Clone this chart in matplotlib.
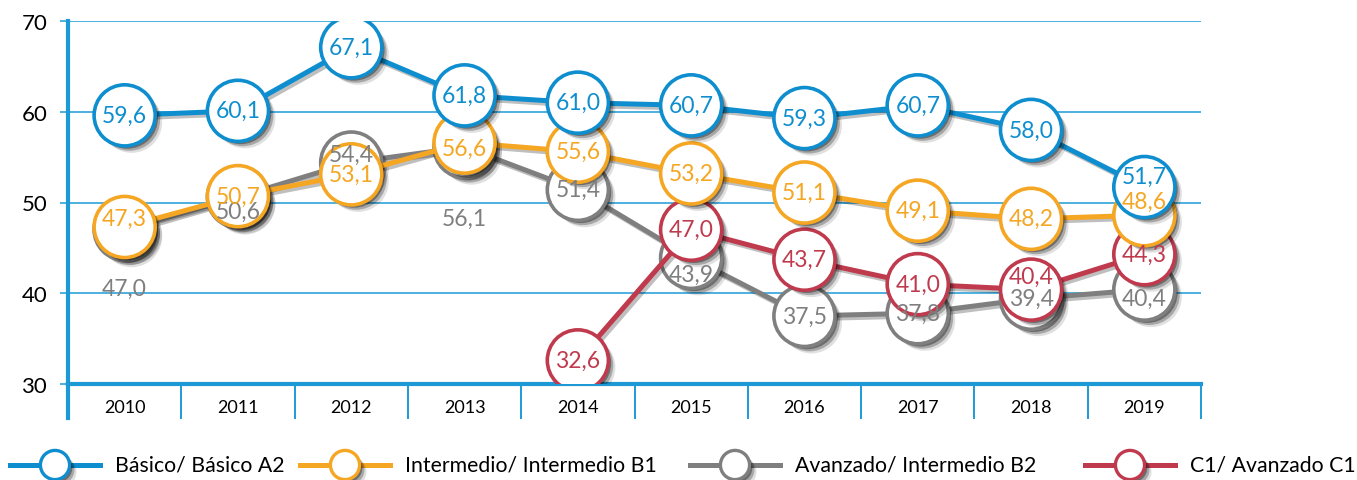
import numpy as np
import matplotlib.pyplot as plt
import matplotlib.patheffects as pe
from matplotlib.lines import Line2D

# ── data ────────────────────────────────────
years = ["2010", "2011", "2012", "2013", "2014",
         "2015", "2016", "2017", "2018", "2019"]

basico     = [59.6, 60.1, 67.1, 61.8, 61.0, 60.7, 59.3, 60.7, 58.0, 51.7]
intermedio = [47.3, 50.7, 53.1, 56.6, 55.6, 53.2, 51.1, 49.1, 48.2, 48.6]
avanzado   = [47.0, 50.6, 54.4, 56.1, 51.4, 43.9, 37.5, 37.8, 39.4, 40.4]
c1         = [np.nan, np.nan, np.nan, np.nan, 32.6, 47.0, 43.7, 41.0, 40.4, 44.3]

names = ["Básico/ Básico A2", "Intermedio/ Intermedio B1",
         "Avanzado/ Intermedio B2", "C1/ Avanzado C1"]

# ── style ───────────────────────────────────
BLUE   = "#0E8ECF"
ORANGE = "#F5A623"
GRAY   = "#7F7F7F"
RED    = "#C03A4E"
GRID   = "#1D9AD6"
FONT   = "Lato"

# label nudges in pixels (positive = up), to mimic the original placement
nudges = {
    "basico":     {9: 11},
    "intermedio": {0: 9, 3: -6, 9: 14},
    "avanzado":   {0: -59, 1: -14, 2: 8, 3: -71, 5: -16, 9: -9},
    "c1":         {8: 13},
}

series = [  # drawn bottom -> top
    ("avanzado",   avanzado,   GRAY,   2),
    ("c1",         c1,         RED,    3),
    ("intermedio", intermedio, ORANGE, 4),
    ("basico",     basico,     BLUE,   5),
]

plt.rcParams["font.family"] = [FONT, "DejaVu Sans"]

W, H = 1357, 481
fig = plt.figure(figsize=(W / 100, H / 100), dpi=100)
ax = fig.add_axes([68 / W, 1 - 385 / H, (1201 - 68) / W, (385 - 22) / H])

x = np.arange(len(years))
px = 0.72  # points per pixel

shadow_line = [pe.SimpleLineShadow(offset=(2, -2), shadow_color="k", alpha=0.25),
               pe.Normal()]
shadow_mark = [pe.SimplePatchShadow(offset=(5, -5), shadow_rgbFace="k", alpha=0.12),
               pe.SimplePatchShadow(offset=(3.5, -3.5), shadow_rgbFace="k", alpha=0.25),
               pe.SimplePatchShadow(offset=(2, -2), shadow_rgbFace="k", alpha=0.35),
               pe.Normal()]

for key, vals, col, z in series:
    ax.plot(x, vals, color=col, lw=3.6, zorder=z, solid_capstyle="round",
            path_effects=shadow_line)
    ax.plot(x, vals, ls="none", marker="o", ms=44, mfc="white", mec=col,
            mew=2.6, zorder=z + 0.5, path_effects=shadow_mark)
    for i, v in enumerate(vals):
        if np.isnan(v):
            continue
        ax.annotate(f"{v:.1f}".replace(".", ","), (x[i], v),
                    xytext=(0, nudges[key].get(i, 0) * px),
                    textcoords="offset points", ha="center", va="center",
                    fontsize=16.5, color=col, zorder=20)

# axes
ax.set_xlim(-0.5, 9.5)
ax.set_ylim(30, 70)
ax.set_yticks([30, 40, 50, 60, 70])
ax.grid(axis="y", color=GRID, lw=1.1)
ax.set_axisbelow(True)
for s in ["top", "right"]:
    ax.spines[s].set_visible(False)
ax.spines["left"].set_color(GRID)
ax.spines["left"].set_linewidth(3)
ax.spines["bottom"].set_color(GRID)
ax.spines["bottom"].set_linewidth(3)
ax.tick_params(axis="y", length=6, color=GRID, width=1.1, labelsize=16, pad=9)

ax.set_xticks(np.arange(-0.5, 10, 1))
ax.set_xticklabels([])
ax.set_xticks(x, minor=True)
ax.set_xticklabels(years, minor=True)
ax.tick_params(axis="x", which="major", length=25, width=1.4, color=GRID)
ax.tick_params(axis="x", which="minor", length=0, labelsize=13, pad=11)

# left spine continues below the axis
ax.plot([0, 0], [0, -0.095], transform=ax.transAxes, color=GRID, lw=3,
        clip_on=False)

# legend, laid out by hand like the original
leg_x = [10, 300, 690, 1085]
leg_y = 1 - 466 / H
for lx, c, name in zip(leg_x, [BLUE, ORANGE, GRAY, RED], names):
    fig.add_artist(Line2D([lx / W, (lx + 90) / W], [leg_y, leg_y], color=c,
                          lw=3.6, transform=fig.transFigure))
    fig.add_artist(Line2D([(lx + 45) / W], [leg_y], ls="none", marker="o",
                          ms=21, mfc="white", mec=c, mew=2.4,
                          transform=fig.transFigure, path_effects=shadow_mark))
    fig.text((lx + 105) / W, leg_y, name, fontsize=15.3, va="center", ha="left")

fig.savefig("out.png", dpi=100)
